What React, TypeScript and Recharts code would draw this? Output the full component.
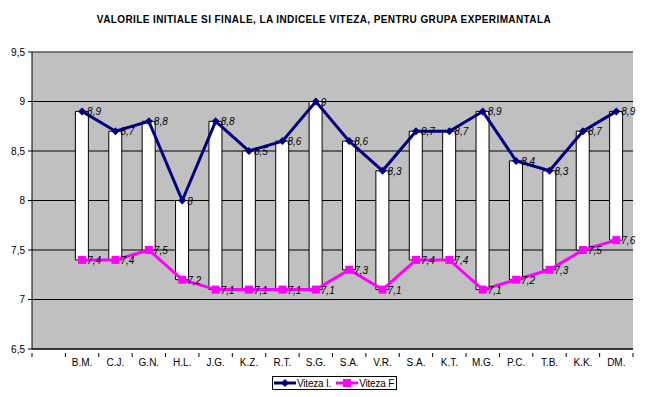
import React from "react";
import {
  ComposedChart,
  Bar,
  Line,
  XAxis,
  YAxis,
  CartesianGrid,
  LabelList,
  ReferenceLine,
} from "recharts";

const names = ["", "B.M.", "C.J.", "G.N.", "H.L.", "J.G.", "K.Z.", "R.T.", "S.G.", "S.A.", "V.R.", "S.A.", "K.T.", "M.G.", "P.C.", "T.B.", "K.K.", "DM."];
const vitezaI = [null, 8.9, 8.7, 8.8, 8, 8.8, 8.5, 8.6, 9, 8.6, 8.3, 8.7, 8.7, 8.9, 8.4, 8.3, 8.7, 8.9];
const vitezaF = [null, 7.4, 7.4, 7.5, 7.2, 7.1, 7.1, 7.1, 7.1, 7.3, 7.1, 7.4, 7.4, 7.1, 7.2, 7.3, 7.5, 7.6];
const yTicks = [6.5, 7, 7.5, 8, 8.5, 9, 9.5];

const data = names.map((name, i) => ({
  key: i,
  name,
  initial: vitezaI[i],
  final: vitezaF[i],
  range: vitezaI[i] == null ? null : [vitezaF[i], vitezaI[i]],
}));

const FONT = "'Liberation Sans', Arial, sans-serif";
const comma = (v: any) => (v == null ? "" : String(v).replace(".", ","));

const Diamond = ({ cx, cy }: any) =>
  cx == null || cy == null ? null : (
    <path d={`M${cx},${cy - 4}L${cx + 4},${cy}L${cx},${cy + 4}L${cx - 4},${cy}Z`} fill="#000080" />
  );

const Square = ({ cx, cy }: any) =>
  cx == null || cy == null ? null : (
    <rect x={cx - 4} y={cy - 4} width={8} height={8} fill="#FF00FF" />
  );

const CatTick = ({ x, y, payload, index }: any) => {
  const half = payload?.offset ?? 16.7;
  return (
    <g>
      <line x1={x - half} x2={x - half} y1={y - 4} y2={y} stroke="#000" />
      {index === names.length - 1 && <line x1={x + half} x2={x + half} y1={y - 4} y2={y} stroke="#000" />}
      <text x={x} y={y + 9} textAnchor="middle" fontSize={10} fontFamily={FONT} fill="#000">
        {payload.value}
      </text>
    </g>
  );
};

const PointLabel = ({ x, y, value }: any) =>
  value == null ? null : (
    <text x={x + 5} y={y + 4} fontSize={10} fontStyle="italic" fontFamily={FONT} fill="#000">
      {comma(value)}
    </text>
  );

export default function App() {
  return (
    <div style={{ position: "absolute", left: 0, top: 0, width: 648, height: 397, background: "#fff" }}>
      <div
        style={{
          position: "absolute",
          top: 14,
          width: 648,
          textAlign: "center",
          fontFamily: FONT,
          fontWeight: "bold",
          fontSize: 10,
          letterSpacing: 0.4,
        }}
      >
        VALORILE INITIALE SI FINALE, LA INDICELE VITEZA, PENTRU GRUPA EXPERIMANTALA
      </div>
      <ComposedChart
        width={648}
        height={397}
        data={data}
        margin={{ top: 52, right: 15, left: 0, bottom: 18 }}
        barCategoryGap={0}
      >
        <CartesianGrid fill="#C0C0C0" stroke="#000" vertical={false} horizontalValues={yTicks} />
        <XAxis
          dataKey="key"
          interval={0}
          height={30}
          tickLine={false}
          axisLine={{ stroke: "#000" }}
          tick={(p: any) => <CatTick {...p} payload={{ ...p.payload, value: names[p.payload.value] }} />}
        />
        <YAxis
          domain={[6.5, 9.5]}
          ticks={yTicks}
          width={32}
          tickSize={4}
          tickMargin={3}
          axisLine={{ stroke: "#000" }}
          tickLine={{ stroke: "#000" }}
          tick={{ fontSize: 10, fontFamily: FONT, fill: "#000" }}
          tickFormatter={comma}
          interval={0}
        />
        <YAxis yAxisId="border" orientation="right" width={0} tick={false} tickLine={false} axisLine={{ stroke: "#808080" }} />
        <ReferenceLine y={9.5} stroke="#808080" />
        <Bar dataKey="range" fill="#fff" stroke="#000" strokeWidth={1} barSize={13} isAnimationActive={false} />
        <Line
          dataKey="initial"
          stroke="#000080"
          strokeWidth={3}
          dot={<Diamond />}
          activeDot={false}
          isAnimationActive={false}
        >
          <LabelList dataKey="initial" content={<PointLabel />} />
        </Line>
        <Line
          dataKey="final"
          stroke="#FF00FF"
          strokeWidth={3}
          dot={<Square />}
          activeDot={false}
          isAnimationActive={false}
        >
          <LabelList dataKey="final" content={<PointLabel />} />
        </Line>
      </ComposedChart>
      <div
        style={{
          position: "absolute",
          left: 272,
          top: 376,
          width: 125,
          height: 14,
          border: "1px solid #000",
          display: "flex",
          alignItems: "center",
          fontFamily: FONT,
          fontSize: 10,
          boxSizing: "border-box",
          whiteSpace: "nowrap",
        }}
      >
        <svg width={22} height={10} style={{ marginLeft: 1, flexShrink: 0 }}>
          <line x1={0} x2={22} y1={5} y2={5} stroke="#000080" strokeWidth={3} />
          <path d="M11,1L15,5L11,9L7,5Z" fill="#000080" />
        </svg>
        <span style={{ marginLeft: 1, letterSpacing: -0.2 }}>Viteza I.</span>
        <svg width={22} height={10} style={{ marginLeft: 5, flexShrink: 0 }}>
          <line x1={0} x2={22} y1={5} y2={5} stroke="#FF00FF" strokeWidth={3} />
          <rect x={7} y={1} width={8} height={8} fill="#FF00FF" />
        </svg>
        <span style={{ marginLeft: 1, letterSpacing: -0.2 }}>Viteza F</span>
      </div>
    </div>
  );
}
